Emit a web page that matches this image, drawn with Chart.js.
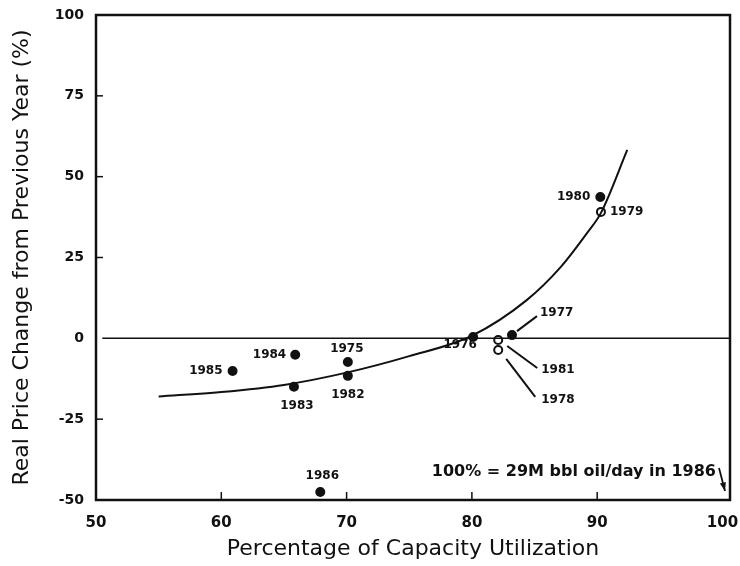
<!DOCTYPE html>
<html><head><meta charset="utf-8">
<script src="https://cdn.jsdelivr.net/npm/chart.js@4.4.0/dist/chart.umd.min.js"></script>
<style>html,body{margin:0;padding:0;background:#fff}#wrap{width:740px;height:566px}</style>
</head><body><div id="wrap"><canvas id="c" width="740" height="566"></canvas></div>
<script>
// ---- data ----
const pointYears = ['1985','1984','1983','1975','1982','1986','1976','1977','1981','1978','1980','1979'];
const pointX     = [60.9, 65.9, 65.8, 70.1, 70.1, 67.9, 80.1, 83.2, 82.1, 82.1, 90.25, 90.3];
const pointY     = [-10.1, -5.1, -15.0, -7.3, -11.6, -47.5, 0.4, 1.0, -0.5, -3.6, 43.7, 39.1];
const curveX = [55, 60, 65, 70, 75, 80, 84.4, 87.1, 89.2, 90.3, 92.4];
const curveY = [-18, -16.6, -14.4, -10.6, -5.5, 0.8, 11.9, 22.1, 32.6, 38.8, 58.3];
const zeroLineX = [50.5, 100.6];
const zeroLineY = [0, 0];
const xTicks = [50, 60, 70, 80, 90, 100];
const yTicks = [-50, -25, 0, 25, 50, 75, 100];
const xTitle = 'Percentage of Capacity Utilization';
const yTitle = 'Real Price Change from Previous Year (%)';
const noteText = '100% = 29M bbl oil/day in 1986';

// ---- styles (label placement relative to its point, in px) ----
const ringYears = ['1981','1978','1979'];
const labelStyle = {
  '1985': {dx:-10, dy:0, align:'right'},
  '1984': {dx:-9, dy:0, align:'right'},
  '1983': {dx:3, dy:19, align:'center'},
  '1975': {dx:-1, dy:-13, align:'center'},
  '1982': {dx:0, dy:19, align:'center'},
  '1986': {dx:2, dy:-16, align:'center'},
  '1976': {dx:-13, dy:8, align:'center'},
  '1977': {dx:28, dy:-22, align:'left', lead:[5,-4,25,-19]},
  '1981': {dx:43, dy:30, align:'left', lead:[9,6,39,28]},
  '1978': {dx:43, dy:50, align:'left', lead:[8,9,37,47]},
  '1980': {dx:-10, dy:0, align:'right'},
  '1979': {dx:9, dy:0, align:'left'}
};
const INK = '#111';

const annot = {
  id:'annot',
  afterDatasetsDraw(chart){
    const {ctx, chartArea:a, scales:{x, y}} = chart;
    ctx.save();
    // frame
    ctx.strokeStyle = INK; ctx.lineWidth = 2.5;
    ctx.strokeRect(a.left, a.top, a.right - a.left, a.bottom - a.top);
    // inward ticks
    ctx.lineWidth = 1.5;
    xTicks.slice(1, -1).forEach(v => {
      const px = x.getPixelForValue(v);
      ctx.beginPath(); ctx.moveTo(px, a.bottom); ctx.lineTo(px, a.bottom - 8); ctx.stroke();
    });
    yTicks.filter(v => v !== -50 && v !== 0 && v !== 100).forEach(v => {
      const py = y.getPixelForValue(v);
      ctx.beginPath(); ctx.moveTo(a.left, py); ctx.lineTo(a.left + 7, py); ctx.stroke();
    });
    // point labels
    ctx.fillStyle = INK;
    ctx.font = 'bold 12px "DejaVu Sans", sans-serif';
    ctx.textBaseline = 'middle';
    pointYears.forEach((yr, i) => {
      const st = labelStyle[yr];
      const px = x.getPixelForValue(pointX[i]);
      const py = y.getPixelForValue(pointY[i]);
      ctx.textAlign = st.align;
      ctx.fillText(yr, px + st.dx, py + st.dy);
      if (st.lead) {
        ctx.lineWidth = 2;
        ctx.beginPath();
        ctx.moveTo(px + st.lead[0], py + st.lead[1]);
        ctx.lineTo(px + st.lead[2], py + st.lead[3]);
        ctx.stroke();
      }
    });
    // note + arrow
    ctx.font = 'bold 16px "DejaVu Sans", sans-serif';
    ctx.textAlign = 'right';
    const nx = a.right - 14, ny = a.bottom - 28;
    ctx.fillText(noteText, nx, ny);
    const sx = nx + 3, sy = ny - 4, ex = nx + 9, ey = a.bottom - 9;
    ctx.lineWidth = 1.8;
    ctx.beginPath(); ctx.moveTo(sx, sy); ctx.lineTo(ex, ey); ctx.stroke();
    const ang = Math.atan2(ey - sy, ex - sx);
    ctx.beginPath();
    ctx.moveTo(ex, ey);
    ctx.lineTo(ex - 9 * Math.cos(ang - 0.35), ey - 9 * Math.sin(ang - 0.35));
    ctx.lineTo(ex - 9 * Math.cos(ang + 0.35), ey - 9 * Math.sin(ang + 0.35));
    ctx.closePath(); ctx.fill();
    ctx.restore();
  }
};

new Chart(document.getElementById('c').getContext('2d'), {
  type: 'scatter',
  data: {
    datasets: [
      {type:'line', data: curveX.map((v, i) => ({x:v, y:curveY[i]})), borderColor:INK, borderWidth:2,
       pointRadius:0, cubicInterpolationMode:'monotone', fill:false},
      {type:'line', data: zeroLineX.map((v, i) => ({x:v, y:zeroLineY[i]})), borderColor:INK, borderWidth:1.5,
       pointRadius:0, fill:false},
      {type:'scatter', data: pointX.map((v, i) => ({x:v, y:pointY[i]})), pointRadius:4,
       backgroundColor: pointYears.map(yr => ringYears.includes(yr) ? '#fff' : INK),
       borderColor: INK, borderWidth: 2}
    ]
  },
  options: {
    responsive:false, animation:false,
    plugins:{legend:{display:false}, tooltip:{enabled:false}},
    layout:{padding:{left:0, right:10, top:15, bottom:0}},
    scales:{
      x:{type:'linear', min:50, max:100.6,
         afterBuildTicks: s => { s.ticks = xTicks.map(v => ({value:v})); },
         afterFit: s => { s.height = 66; s.paddingLeft = 0; s.paddingRight = 0; },
         grid:{display:false, drawTicks:false}, border:{display:false},
         ticks:{padding:14, color:INK, maxRotation:0, autoSkip:false,
                font:{family:'DejaVu Sans', size:15, weight:'bold'}},
         title:{display:true, text:xTitle, color:INK, font:{family:'DejaVu Sans', size:22},
                padding:{top:0, bottom:4}}},
      y:{type:'linear', min:-50, max:100,
         afterBuildTicks: s => { s.ticks = yTicks.map(v => ({value:v})); },
         afterFit: s => { s.width = 96; s.paddingTop = 0; s.paddingBottom = 0; },
         grid:{display:false, drawTicks:false}, border:{display:false},
         ticks:{padding:12, color:INK, font:{family:'DejaVu Sans', size:14, weight:'bold'}},
         title:{display:true, text:yTitle, color:INK, font:{family:'DejaVu Sans', size:22},
                padding:{top:9, bottom:0}}}
    }
  },
  plugins:[annot]
});
</script></body></html>
